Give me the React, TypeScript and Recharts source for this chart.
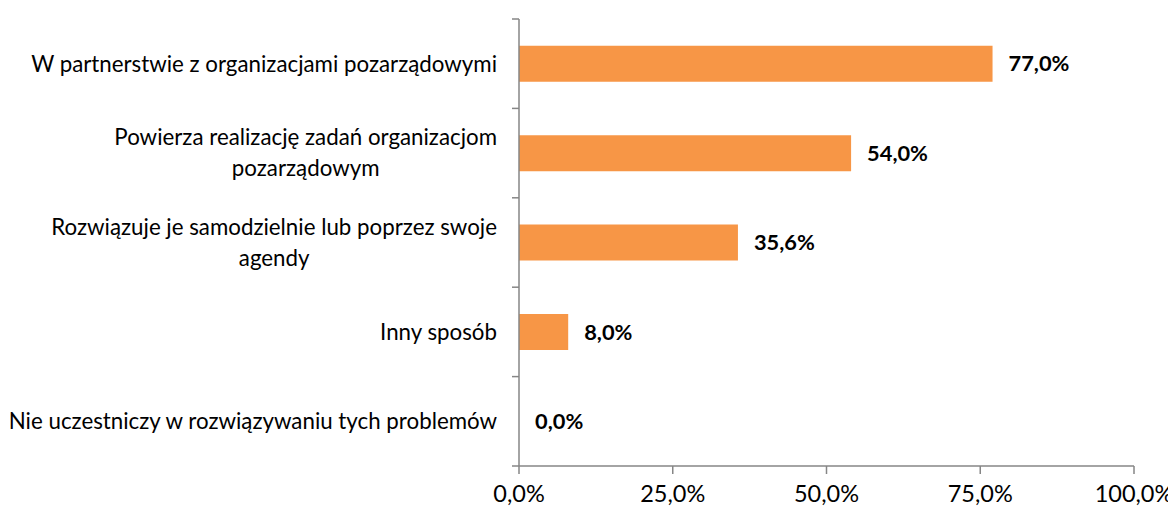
import React from 'react';
import { BarChart, Bar, XAxis, YAxis, Rectangle } from 'recharts';

const categories = [
  'W partnerstwie z organizacjami pozarządowymi',
  'Powierza realizację zadań organizacjom\npozarządowym',
  'Rozwiązuje je samodzielnie lub poprzez swoje\nagendy',
  'Inny sposób',
  'Nie uczestniczy w rozwiązywaniu tych problemów',
];
const values = [77.0, 54.0, 35.6, 8.0, 0.0];
const xTicks = [0, 25, 50, 75, 100];

const data = categories.map((name, i) => ({ name, value: values[i] }));

const FONT = 'Lato, "Open Sans", sans-serif';
const AXIS = '#868686';
const CAT_SIZE = 22.3;
const PLOT_TOP = 11;
const PLOT_H = 447;
const AXIS_X = 511;
const BAND = PLOT_H / categories.length;

const fmt = (v: number) => v.toFixed(1).replace('.', ',') + '%';

let ctx: CanvasRenderingContext2D | null = null;
const measure = (s: string) => {
  if (!ctx) ctx = document.createElement('canvas').getContext('2d');
  if (!ctx) return s.length * CAT_SIZE * 0.5;
  ctx.font = `${CAT_SIZE}px Lato`;
  return ctx.measureText(s).width;
};

const CatTick = (props: any) => {
  const { y, payload, index } = props;
  const lines: string[] = String(payload.value).split('\n');
  const right = AXIS_X - 22;
  const widths = lines.map(measure);
  const maxW = Math.max(...widths);
  const cx = right - maxW / 2;
  const lh = 31;
  const y0 = y - ((lines.length - 1) * lh) / 2;
  const top = y - BAND / 2;
  return (
    <g>
      <line x1={AXIS_X - 7} x2={AXIS_X} y1={top} y2={top} stroke={AXIS} strokeWidth={1.5} />
      {index === categories.length - 1 && (
        <line x1={AXIS_X - 7} x2={AXIS_X} y1={top + BAND} y2={top + BAND} stroke={AXIS} strokeWidth={1.5} />
      )}
      {lines.map((l, i) => (
        <text
          key={i}
          x={lines.length > 1 ? cx : right}
          y={y0 + i * lh}
          dy="0.35em"
          textAnchor={lines.length > 1 ? 'middle' : 'end'}
          fontFamily={FONT}
          fontSize={CAT_SIZE}
          fill="#000"
        >
          {l}
        </text>
      ))}
    </g>
  );
};

// zero-valued bars get minPointSize so their label still renders; draw nothing for them
const BarShape = (props: any) => {
  if (!props.value) return null;
  return <Rectangle {...props} />;
};

const ValueLabel = (props: any) => {
  const { x, y, width, height, value } = props;
  const w = Number(value) ? width || 0 : 0;
  return (
    <text
      x={x + w + 16}
      y={y + height / 2}
      dy="0.35em"
      fontFamily={FONT}
      fontSize={21.8}
      fontWeight="bold"
      fill="#000"
    >
      {fmt(Number(value))}
    </text>
  );
};

export default function App() {
  return (
    <div style={{ width: 1168, height: 504, background: '#fff' }}>
      <BarChart
        width={1168}
        height={504}
        data={data}
        layout="vertical"
        margin={{ top: PLOT_TOP, right: 42, bottom: 0, left: 0 }}
        barCategoryGap="30%"
      >
        <XAxis
          type="number"
          domain={[0, 100]}
          ticks={xTicks}
          tickFormatter={fmt}
          height={46}
          axisLine={{ stroke: AXIS, strokeWidth: 1.5 }}
          tickLine={{ stroke: AXIS, strokeWidth: 1.5 }}
          tickSize={8}
          tickMargin={11}
          interval={0}
          tick={{ fill: '#000', fontSize: 23.5, fontFamily: FONT }}
        />
        <YAxis
          type="category"
          dataKey="name"
          width={511}
          axisLine={{ stroke: AXIS, strokeWidth: 1.5 }}
          tickLine={false}
          tick={<CatTick />}
          interval={0}
        />
        <Bar
          dataKey="value"
          fill="#F79646"
          minPointSize={1}
          shape={<BarShape />}
          isAnimationActive={false}
          label={<ValueLabel />}
        />
      </BarChart>
    </div>
  );
}
